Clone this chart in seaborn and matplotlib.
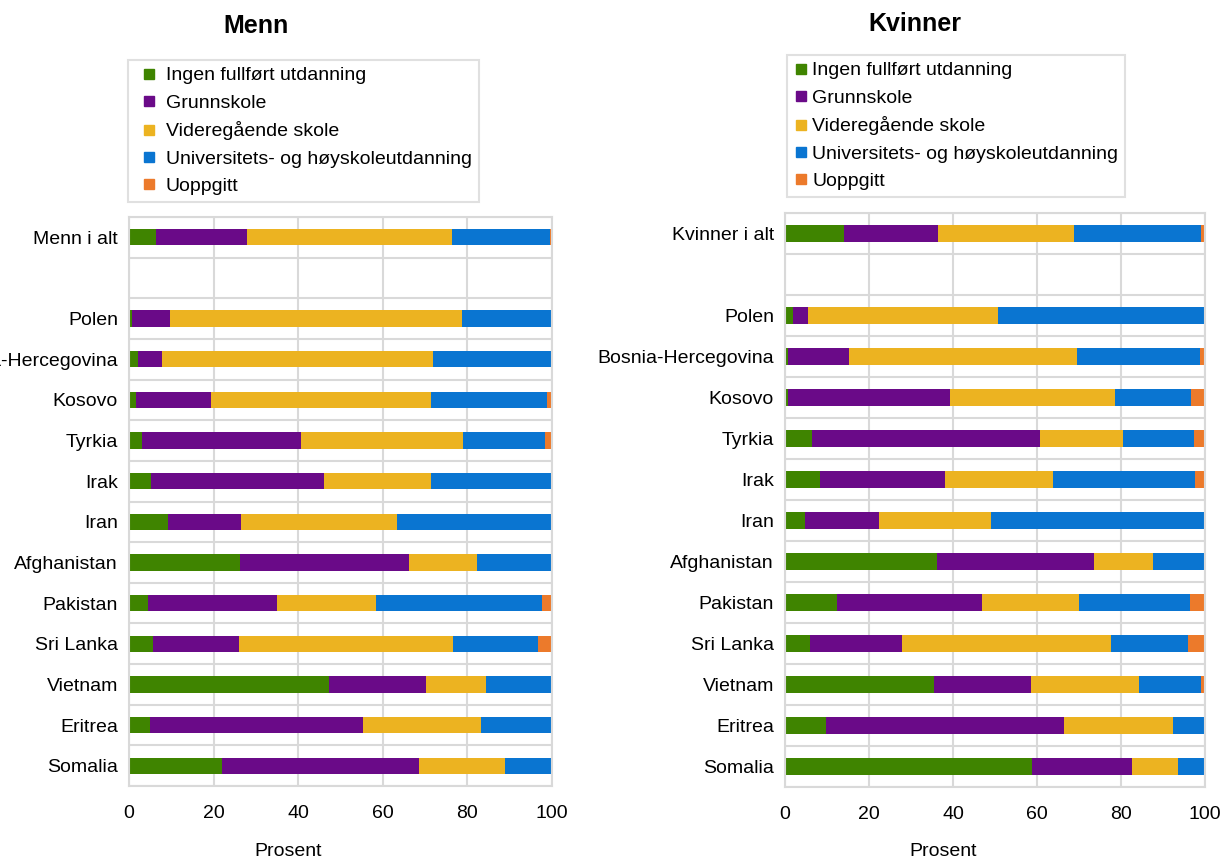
import numpy as np
import pandas as pd
import matplotlib
matplotlib.use("Agg")
import matplotlib.pyplot as plt
from matplotlib.lines import Line2D
import seaborn as sns

# categories (top to bottom), blank row separates the total from the countries
countries = ["Polen", "Bosnia-Hercegovina", "Kosovo", "Tyrkia", "Irak", "Iran",
             "Afghanistan", "Pakistan", "Sri Lanka", "Vietnam", "Eritrea", "Somalia"]
series = ["Ingen fullført utdanning", "Grunnskole", "Videregående skole",
          "Universitets- og høyskoleutdanning", "Uoppgitt"]
colors = ["#3F8400", "#6A0A88", "#ECB321", "#0A75D1", "#EC7A2B"]

# Menn: total first, then countries (percent)
menn_ingen = [6.5, 0.8, 2.1, 1.6, 3.1, 5.2, 9.3, 26.2, 4.6, 5.7, 47.3, 5.0, 21.9]
menn_grunn = [21.5, 8.8, 5.7, 17.9, 37.5, 40.9, 17.2, 39.9, 30.5, 20.2, 22.9, 50.3, 46.7]
menn_vgs = [48.3, 69.1, 64.1, 51.8, 38.3, 25.2, 36.8, 16.2, 23.3, 50.6, 14.1, 28.0, 20.2]
menn_uni = [23.3, 21.3, 28.1, 27.5, 19.4, 28.7, 36.5, 17.7, 39.2, 20.3, 15.7, 16.7, 11.2]
menn_uopp = [0.4, 0.0, 0.0, 1.2, 1.7, 0.0, 0.2, 0.0, 2.4, 3.2, 0.0, 0.0, 0.0]

# Kvinner
kvinner_ingen = [14.0, 2.0, 0.6, 0.8, 6.5, 8.3, 4.7, 36.1, 12.4, 5.9, 35.4, 9.8, 58.8]
kvinner_grunn = [22.4, 3.5, 14.7, 38.4, 54.1, 29.7, 17.7, 37.4, 34.5, 22.0, 23.1, 56.7, 23.7]
kvinner_vgs = [32.5, 45.3, 54.3, 39.4, 19.8, 25.7, 26.6, 14.0, 23.0, 49.8, 25.8, 25.8, 11.0]
kvinner_uni = [30.1, 49.0, 29.3, 18.1, 17.0, 34.0, 50.8, 12.5, 26.5, 18.2, 14.7, 7.7, 6.5]
kvinner_uopp = [1.0, 0.2, 1.1, 3.3, 2.6, 2.3, 0.2, 0.0, 3.6, 4.1, 1.0, 0.0, 0.0]

GRID = "#D9D9D9"
FS = 14


def make_frame(total_label, values):
    labels = [total_label, " "] + countries
    df = pd.DataFrame({"label": labels})
    for name, vals in zip(series, values):
        df[name] = [vals[0], 0.0] + list(vals[1:])
    return df


def draw_panel(ax, df):
    # stacked bars: draw cumulative sums from the outermost layer inwards
    cum = df[series].cumsum(axis=1)
    for name, color in reversed(list(zip(series, colors))):
        sns.barplot(x=cum[name], y=df["label"], orient="h", color=color,
                    width=0.4, linewidth=0, saturation=1, ax=ax, order=list(df["label"]))
    ax.set_xlim(0, 100)
    ax.set_ylim(len(df) - 0.5, -0.5)
    ax.set_xticks([0, 20, 40, 60, 80, 100])
    ax.set_yticks(np.arange(-0.5, len(df), 1.0), minor=True)
    ax.grid(axis="x", color=GRID, linewidth=1.5)
    ax.grid(axis="y", which="minor", color=GRID, linewidth=1.5)
    ax.set_axisbelow(True)
    ax.tick_params(axis="both", which="both", length=0, labelsize=FS, labelcolor="black")
    ax.tick_params(axis="y", pad=8)
    ax.tick_params(axis="x", pad=14)
    for s in ax.spines.values():
        s.set_color(GRID)
        s.set_linewidth(1.5)
    ax.set_xlabel("")
    ax.set_ylabel("")


sns.set_style("white")
plt.rcParams["font.family"] = ["Liberation Sans", "DejaVu Sans"]
plt.rcParams["text.color"] = "black"

fig = plt.figure(figsize=(12.24, 8.61), dpi=100)
ax1 = fig.add_axes([129 / 1224, 1 - 786 / 861, 423 / 1224, 569 / 861])
ax2 = fig.add_axes([785 / 1224, 1 - 787 / 861, 420 / 1224, 574 / 861])

draw_panel(ax1, make_frame("Menn i alt", [menn_ingen, menn_grunn, menn_vgs, menn_uni, menn_uopp]))
draw_panel(ax2, make_frame("Kvinner i alt", [kvinner_ingen, kvinner_grunn, kvinner_vgs, kvinner_uni, kvinner_uopp]))

fig.text(256 / 1224, 1 - 26 / 861, "Menn", ha="center", va="center", fontsize=18, fontweight="bold")
fig.text(915 / 1224, 1 - 24 / 861, "Kvinner", ha="center", va="center", fontsize=18, fontweight="bold")
fig.text(288 / 1224, 1 - 852 / 861, "Prosent", ha="center", va="center", fontsize=FS)
fig.text(943 / 1224, 1 - 852 / 861, "Prosent", ha="center", va="center", fontsize=FS)

# legends: left one has its keys indented a bit more than the right one
handles = [Line2D([0], [0], marker="s", linestyle="", markersize=7.5, color=c) for c in colors]
for x0, y0, hlen, hpad in [(128, 60, 1.5, 0.1), (787, 55, 0.7, 0.25)]:
    leg = fig.legend(handles, series, loc="upper left", bbox_to_anchor=(x0 / 1224, 1 - y0 / 861),
                     frameon=True, fancybox=False, fontsize=FS, handlelength=hlen,
                     handletextpad=hpad, labelspacing=0.5, borderpad=0.35, borderaxespad=0)
    leg.get_frame().set_edgecolor(GRID)
    leg.get_frame().set_linewidth(1.5)

fig.savefig("out.png", dpi=100)
